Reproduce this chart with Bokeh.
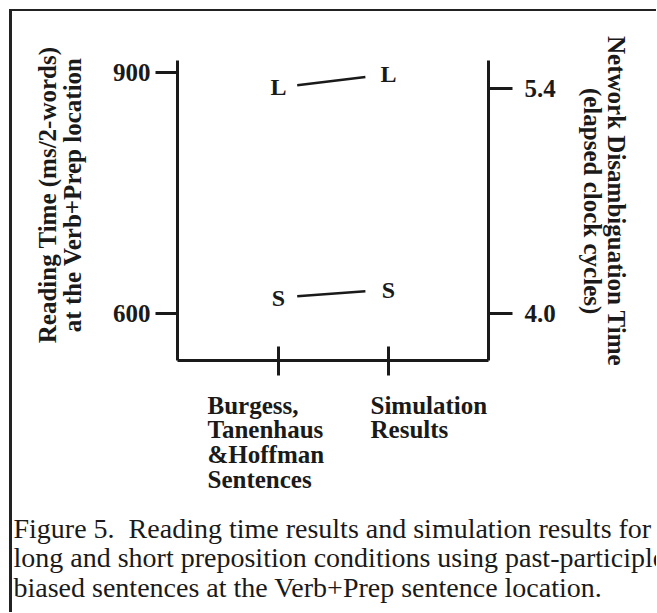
import math
from bokeh.plotting import figure
from bokeh.layouts import column
from bokeh.models import Range1d, LinearAxis, FixedTicker, PrintfTickFormatter, Label, ColumnDataSource
from bokeh.core.properties import value
from bokeh.embed import file_html
from bokeh.resources import INLINE

# ---------------- data ----------------
conditions = ["Burgess,\nTanenhaus\n&Hoffman\nSentences", "Simulation\nResults"]
cond_x = [1, 2]
series = ["L", "S"]                 # long / short preposition condition
reading_time_ms = [881, 620]        # left axis (Burgess, Tanenhaus & Hoffman)
network_cycles = [5.49, 4.15]       # right axis (simulation)
left_ticks = [600, 900]
right_ticks = [4.0, 5.4]
left_title = ["Reading Time (ms/2-words)", "at the Verb+Prep location"]
right_title = ["Network Disambiguation Time", "(elapsed clock cycles)"]
caption = ("Figure 5.\u00a0 Reading time results and simulation results for\n"
           "long and short preposition conditions using past-participle\n"
           "biased sentences at the Verb+Prep sentence location.")

# ---------------- ranges / layout ----------------
X0, X1 = 0.082, 2.909
Y0, Y1 = 542.0, 914.5
R0, R1 = 3.709, 5.576
OX, OY = 12, 11                      # canvas origin on the page (margin + border)
W = 644
FL, FT, FW, FH = 177 - OX, 60 - OY, 311, 300
FB = 24
H1 = FT + FH + FB                    # main chart height
H2 = 601 - H1                        # text panel height
PANEL_TOP = OY + H1                  # page y of the text panel
INK = "#1a1a1a"
SERIF = "Liberation Serif"
NB = "\u00a0"

def right_to_left(v):
    return Y0 + (v - R0) * (Y1 - Y0) / (R1 - R0)

p = figure(width=W, height=H1, x_range=Range1d(X0, X1), y_range=Range1d(Y0, Y1),
           output_backend="svg", toolbar_location=None,
           min_border_left=FL, min_border_right=W - FL - FW,
           min_border_top=FT, min_border_bottom=FB)
p.extra_y_ranges = {"right": Range1d(R0, R1)}
p.xgrid.visible = False
p.ygrid.visible = False
p.outline_line_color = None
p.background_fill_color = "white"
p.border_fill_color = "white"

def style_axis(ax):
    ax.axis_line_width = 3
    ax.axis_line_color = INK
    ax.major_tick_line_width = 3
    ax.major_tick_line_color = INK
    ax.minor_tick_line_color = None
    ax.major_label_text_font = SERIF
    ax.major_label_text_font_style = "bold"
    ax.major_label_text_font_size = "25px"
    ax.major_label_text_color = INK
    ax.axis_label_text_font = SERIF
    ax.axis_label_text_font_style = "bold"
    ax.axis_label_text_font_size = "25px"
    ax.axis_label_text_color = INK

ly = p.yaxis[0]
ly.ticker = FixedTicker(ticks=left_ticks)
style_axis(ly)
ly.major_tick_in = 0
ly.major_tick_out = 22
ly.major_label_standoff = 5
# leading no-break spaces nudge the centred title upward, as in the original
ly.axis_label = "\n".join(NB * 5 + s for s in left_title)
ly.axis_label_standoff = 24
ly.axis_label_text_line_height = 0.94

ry = LinearAxis(y_range_name="right", ticker=FixedTicker(ticks=right_ticks),
                formatter=PrintfTickFormatter(format="%.1f"))
style_axis(ry)
ry.major_tick_in = 0
ry.major_tick_out = 24
ry.major_label_standoff = 12
ry.axis_label = "\n".join(s + NB * 3 for s in right_title)
ry.axis_label_standoff = 20
ry.axis_label_text_line_height = 0.88
p.add_layout(ry, "right")

bx = p.xaxis[0]
bx.ticker = FixedTicker(ticks=cond_x)
style_axis(bx)
bx.major_tick_in = 14
bx.major_tick_out = 15
bx.major_label_standoff = 0
bx.major_label_text_font_size = "1px"
bx.major_label_overrides = {1: "", 2: ""}

# ---------------- connecting lines ----------------
ya = reading_time_ms
yb = [right_to_left(v) for v in network_cycles]
t0, t1 = 0.17, 0.79
seg = ColumnDataSource(dict(
    x0=[cond_x[0] + t0 * (cond_x[1] - cond_x[0])] * 2,
    x1=[cond_x[0] + t1 * (cond_x[1] - cond_x[0])] * 2,
    y0=[a + t0 * (b - a) for a, b in zip(ya, yb)],
    y1=[a + t1 * (b - a) for a, b in zip(ya, yb)],
))
p.segment("x0", "y0", "x1", "y1", source=seg, line_width=2.5, line_color=INK)

# ---------------- letter markers ----------------
left_src = ColumnDataSource(dict(x=[cond_x[0]] * 2, y=reading_time_ms, t=series))
right_src = ColumnDataSource(dict(x=[cond_x[1]] * 2, y=network_cycles, t=series))
for src, rn in ((left_src, "default"), (right_src, "right")):
    p.text("x", "y", text="t", source=src, y_range_name=rn,
           text_font=value(SERIF), text_font_style="bold", text_font_size="24px",
           text_align="center", text_baseline="middle", text_color=INK)

# ---------------- text panel (category names + caption) ----------------
# same x scale as the chart, extended over the whole panel width; y counts pixels downward
ux = (X1 - X0) / FW
q = figure(width=W, height=H2,
           x_range=Range1d(X0 - FL * ux, X0 + (W - FL) * ux),
           y_range=Range1d(H2, 0),
           x_axis_type=None, y_axis_type=None,
           output_backend="svg", toolbar_location=None, min_border=0)
q.xgrid.visible = False
q.ygrid.visible = False
q.outline_line_color = None
q.background_fill_color = "white"
q.border_fill_color = "white"

def px_to_x(px):
    return X0 + (px - (FL + OX)) * ux

cat_left_px = [207, 370]
for txt, lx in zip(conditions, cat_left_px):
    q.add_layout(Label(x=px_to_x(lx), y=391 - PANEL_TOP, text=txt,
                       text_align="left", text_baseline="top", text_line_height=0.92,
                       text_font=SERIF, text_font_style="bold", text_font_size="25px",
                       text_color=INK))

q.add_layout(Label(x=px_to_x(13), y=512 - PANEL_TOP, text=caption,
                   text_align="left", text_baseline="top", text_line_height=0.96,
                   text_font=SERIF, text_font_size="28px", text_color=INK))

BORDER = "3px solid #222222"
if "frame_align" in q.properties():
    p.frame_align = False
    q.frame_align = False
    layout = column(p, q, spacing=0)
    layout.styles = {"margin-left": "9px", "margin-top": "9px",
                     "border-left": BORDER, "border-top": "2px solid #222222"}
    html = file_html(layout, INLINE)
else:
    p.styles = {"margin-left": "9px", "margin-top": "9px",
                "border-left": BORDER, "border-top": "2px solid #222222"}
    q.styles = {"margin-left": "9px", "border-left": BORDER}
    html = file_html([p, q], INLINE)

open("out.html", "w").write(html)
